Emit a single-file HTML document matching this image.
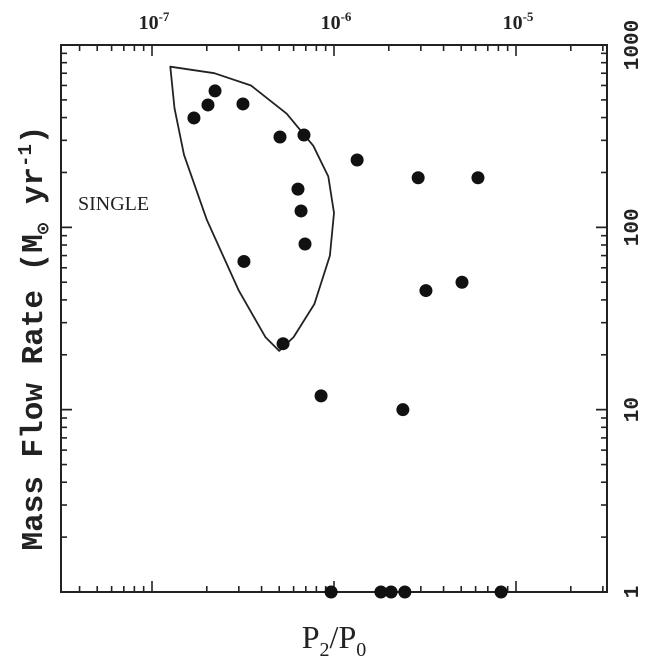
<!DOCTYPE html>
<html><head><meta charset="utf-8"><style>
html,body{margin:0;padding:0;background:#fff;}
svg{display:block;}
</style></head><body>
<svg id="chart" width="654" height="671" viewBox="0 0 654 671" xmlns="http://www.w3.org/2000/svg"></svg>
<script>
const xTickExps = [-7, -6, -5];
const xTickLabels = ["10", "10", "10"];
const xTickSups = ["-7", "-6", "-5"];
const yTickVals = [1000, 100, 10, 1];
const yTickLabels = ["1000", "100", "10", "1"];
const ptsX = [1.70e-7, 2.03e-7, 2.22e-7, 3.16e-7, 5.05e-7, 6.84e-7, 1.34e-6, 6.34e-7, 6.59e-7, 6.93e-7, 3.20e-7, 2.90e-6, 6.18e-6, 3.20e-6, 5.05e-6, 5.25e-7, 8.49e-7, 2.39e-6, 9.64e-7, 1.81e-6, 2.06e-6, 2.45e-6, 8.28e-6];
const ptsY = [398, 469, 560, 475, 313, 321, 234, 162, 123, 81, 65, 187, 187, 45, 50, 23, 11.9, 10, 1, 1, 1, 1, 1];
const envX = [1.26e-7, 2.2e-7, 3.5e-7, 5.5e-7, 7.7e-7, 9.3e-7, 1.0e-6, 0.95e-6, 0.78e-6, 0.6e-6, 0.5e-6, 0.42e-6, 0.3e-6, 0.2e-6, 0.15e-6, 0.133e-6, 0.126e-6];
const envY = [760, 700, 600, 420, 280, 190, 120, 70, 38, 25, 21, 25, 45, 110, 250, 450, 760];

const L=61,R=607,T=45,B=592;
const xMin=-7.5,xMax=-4.5,yMin=0,yMax=3;
const sx=v=>L+(Math.log10(v)-xMin)/(xMax-xMin)*(R-L);
const sxe=e=>L+(e-xMin)/(xMax-xMin)*(R-L);
const sy=v=>B-(Math.log10(v)-yMin)/(yMax-yMin)*(B-T);
const svg=document.getElementById('chart');
const NS='http://www.w3.org/2000/svg';
function mk(tag,attrs,parent){const e=document.createElementNS(NS,tag);for(const k in attrs)e.setAttribute(k,attrs[k]);(parent||svg).appendChild(e);return e;}

const frame=mk('rect',{x:L,y:T,width:R-L,height:B-T,fill:'none',stroke:'#222','stroke-width':2});



const ticks=mk('g',{stroke:'#222','stroke-width':1.6});


for(let d=-8;d<=-5;d++){for(let m=1;m<10;m++){const e=d+Math.log10(m);if(e<xMin-1e-9||e>xMax+1e-9)continue;const x=sxe(e);const len=m===1?11:6;
 mk('line',{x1:x,y1:B,x2:x,y2:B-len},ticks);mk('line',{x1:x,y1:T,x2:x,y2:T+len},ticks);}}
for(let d=0;d<3;d++){for(let m=1;m<=10;m++){const v=Math.pow(10,d)*m;const y=sy(v);const len=(m===1||m===10)?11:6;
 mk('line',{x1:L,y1:y,x2:L+len,y2:y},ticks);mk('line',{x1:R,y1:y,x2:R-len,y2:y},ticks);}}

xTickExps.forEach((e,i)=>{const t=mk('text',{x:sxe(e)+2,y:29,'text-anchor':'middle','font-family':'Liberation Serif, serif','font-weight':'bold','font-size':20,fill:'#222'});
 
 
 t.textContent=xTickLabels[i];const s=mk('tspan',{dy:-8,'font-size':13},t);s.textContent=xTickSups[i];});
yTickVals.forEach((v,i)=>{const y=sy(v);const t=mk('text',{x:0,y:0,'text-anchor':'middle','font-family':'Liberation Mono, monospace','font-weight':'bold','font-size':21,fill:'#222',transform:`translate(638,${y}) rotate(-90)`});
 
 
 t.textContent=yTickLabels[i];});

let d='';envX.forEach((v,i)=>{d+=(i?'L':'M')+sx(v).toFixed(1)+','+sy(envY[i]).toFixed(1);});
const env=mk('path',{d:d+'Z',fill:'none',stroke:'#222','stroke-width':1.8,'stroke-linejoin':'round'});



ptsX.forEach((v,i)=>{const c=mk('circle',{cx:sx(v),cy:sy(ptsY[i]),r:6.5,fill:'#111'});
 
 });

const single=mk('text',{x:78,y:210,'font-family':'Liberation Serif, serif','font-size':20,fill:'#222'});


single.textContent='SINGLE';

const xt=mk('text',{x:334,y:648,'text-anchor':'middle','font-family':'Liberation Serif, serif','font-size':32,fill:'#222'});


xt.textContent='P';let s1=mk('tspan',{dy:8,'font-size':20},xt);s1.textContent='2';
let s2=mk('tspan',{dy:-8},xt);s2.textContent='/P';let s3=mk('tspan',{dy:8,'font-size':20},xt);s3.textContent='0';

const yt=mk('text',{x:0,y:0,'text-anchor':'middle','font-family':'Liberation Mono, DejaVu Sans Mono, monospace','font-weight':'bold','font-size':31,fill:'#222',transform:'translate(42,338) rotate(-90)'});


yt.textContent='Mass Flow Rate (M';let a=mk('tspan',{dy:7,'font-size':19},yt);a.textContent='\u2299';
let b=mk('tspan',{dy:-7},yt);b.textContent=' yr';let c=mk('tspan',{dy:-11,'font-size':19},yt);c.textContent='-1';
let e2=mk('tspan',{dy:11},yt);e2.textContent=')';
</script>
</body></html>
